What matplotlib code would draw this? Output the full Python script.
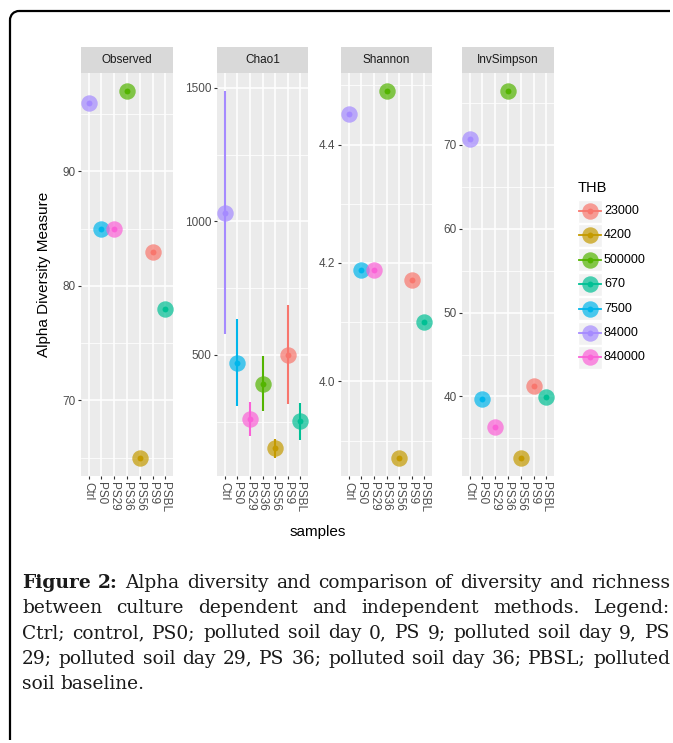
import numpy as np
import matplotlib
matplotlib.use("Agg")
import matplotlib.pyplot as plt
from matplotlib.patches import Rectangle, Arc

plt.rcParams['font.family'] = ['Liberation Sans', 'DejaVu Sans']

# alpha diversity per sample
samples = ["Ctrl", "PS0", "PS29", "PS36", "PS56", "PS9", "PSBL"]
thb = ["84000", "7500", "840000", "500000", "4200", "23000", "670"]
observed = [96, 85, 85, 97, 65, 83, 78]
chao1 = [1032, 471, 260, 391, 150, 500, 252]
chao1_se = [455, 163, 62, 103, 35, 185, 69]
shannon = [4.452, 4.188, 4.188, 4.490, 3.871, 4.171, 4.100]
invsimpson = [70.7, 39.7, 36.4, 76.4, 32.7, 41.2, 39.9]

thb_levels = ["23000", "4200", "500000", "670", "7500", "84000", "840000"]
thb_colors = ["#F8766D", "#C49A00", "#53B400", "#00C094", "#00B6EB", "#A58AFF", "#FB61D7"]
color_of = dict(zip(thb_levels, thb_colors))

measures = ["Observed", "Chao1", "Shannon", "InvSimpson"]
values = [observed, chao1, shannon, invsimpson]
errors = [None, chao1_se, None, None]
major_ticks = [[70, 80, 90], [500, 1000, 1500], [4.0, 4.2, 4.4], [40, 50, 60, 70]]
tick_fmt = ["{:g}", "{:g}", "{:.1f}", "{:g}"]

caption = [
    [("Figure", True), ("2:", True), "Alpha diversity and comparison of diversity and richness"],
    ["between culture dependent and independent methods. Legend:"],
    ["Ctrl; control, PS0; polluted soil day 0, PS 9; polluted soil day 9, PS"],
    ["29; polluted soil day 29, PS 36; polluted soil day 36; PBSL; polluted"],
    ["soil baseline."],
]

W, H = 673, 743
fig = plt.figure(figsize=(W / 100, H / 100), dpi=100)
fig.patch.set_facecolor("white")


def px_rect(x0, y0, x1, y1):
    return [x0 / W, 1 - y1 / H, (x1 - x0) / W, (y1 - y0) / H]


panel_x = [(81, 173), (217, 308), (341, 432), (462, 554)]
panel_top, panel_bot = 73, 476
strip_top = 47
xs = np.arange(1, len(samples) + 1)

for k, name in enumerate(measures):
    x0, x1 = panel_x[k]
    ax = fig.add_axes(px_rect(x0, panel_top, x1, panel_bot))
    ax.set_facecolor("#EBEBEB")
    for s in ax.spines.values():
        s.set_visible(False)

    v = np.array(values[k], dtype=float)
    if errors[k] is not None:
        e = np.array(errors[k], dtype=float)
        lo, hi = (v - e).min(), (v + e).max()
    else:
        lo, hi = v.min(), v.max()
    pad = (hi - lo) * 0.05
    ax.set_ylim(lo - pad, hi + pad)
    ax.set_xlim(0.4, len(samples) + 0.6)

    # grid: minor lines halfway between majors
    mt = major_ticks[k]
    step = mt[1] - mt[0]
    minors = np.arange(mt[0] - step * 2.5, mt[-1] + step * 3, step)
    for m in minors:
        ax.axhline(m, color="white", lw=0.55, zorder=0)
    for m in mt:
        ax.axhline(m, color="white", lw=1.1, zorder=0)
    for x in xs:
        ax.axvline(x, color="white", lw=1.1, zorder=0)

    ax.set_yticks(mt)
    ax.set_yticklabels([tick_fmt[k].format(t) for t in mt])
    ax.set_xticks(xs)
    ax.set_xticklabels(samples, rotation=270, va="top", ha="center")
    ax.tick_params(axis="both", length=2.5, width=0.8, color="#333333",
                   labelsize=8.5, labelcolor="#4D4D4D", pad=1.5)

    for i, x in enumerate(xs):
        c = color_of[thb[i]]
        if errors[k] is not None:
            ax.vlines(x, v[i] - errors[k][i], v[i] + errors[k][i], color=c, lw=1.5, zorder=2)
        ax.scatter(x, v[i], s=18, color=c, lw=0, zorder=3)
        ax.scatter(x, v[i], s=140, color=c, alpha=0.7, lw=0, zorder=4)

    st = fig.add_axes(px_rect(x0, strip_top, x1, panel_top))
    st.set_facecolor("#D9D9D9")
    st.set_xticks([])
    st.set_yticks([])
    for s in st.spines.values():
        s.set_visible(False)
    st.text(0.5, 0.5, name, ha="center", va="center", fontsize=8.5,
            color="#1A1A1A", transform=st.transAxes)

# overlay in pixel coordinates: titles, legend, caption, frame
ov = fig.add_axes([0, 0, 1, 1])
ov.set_xlim(0, W)
ov.set_ylim(H, 0)
ov.axis("off")
ov.set_zorder(10)

# frame: left and top edges joined by a rounded corner
r = 9
frame_kw = dict(color="black", lw=1.6, solid_capstyle="butt")
ov.plot([10, 10], [11 + r, H - 3], **frame_kw)
ov.plot([10 + r, W - 3], [11, 11], **frame_kw)
ov.add_patch(Arc((10 + r, 11 + r), 2 * r, 2 * r, theta1=180, theta2=270,
                 ec="black", lw=1.6))

ov.text(44, (panel_top + panel_bot) / 2, "Alpha Diversity Measure", rotation=90,
        ha="center", va="center", fontsize=11, color="black")
ov.text((panel_x[0][0] + panel_x[-1][1]) / 2, 532, "samples", ha="center", va="center",
        fontsize=11, color="black")

# legend
ov.text(578, 188, "THB", ha="left", va="center", fontsize=10.5, color="black")
for j, lev in enumerate(thb_levels):
    cy = 211 + 24.4 * j
    ov.add_patch(Rectangle((578, cy - 11.5), 24, 23, fc="#F2F2F2", ec="white", lw=1))
    c = color_of[lev]
    ov.plot([579, 601], [cy, cy], color=c, lw=1.3)
    ov.scatter(590, cy, s=18, color=c, lw=0, zorder=3)
    ov.scatter(590, cy, s=140, color=c, alpha=0.7, lw=0, zorder=4)
    ov.text(604, cy, lev, ha="left", va="center", fontsize=9, color="black")

# justified caption
renderer = fig.canvas.get_renderer()
cap_left, cap_right = 22, 670
cap_font = dict(family="DejaVu Serif", fontsize=13.4, color="#1A1A1A", va="baseline", ha="left")
for n, line in enumerate(caption):
    words = []
    for part in line:
        if isinstance(part, tuple):
            words.append(part)
        else:
            words.extend((w, False) for w in part.split())
    y = 588 + 25.2 * n
    texts = [ov.text(0, y, w, weight="bold" if b else "normal", **cap_font) for w, b in words]
    widths = [t.get_window_extent(renderer).width for t in texts]
    if n == len(caption) - 1:
        gap = 5.5
    else:
        gap = (cap_right - cap_left - sum(widths)) / (len(words) - 1)
    x = cap_left
    for t, w in zip(texts, widths):
        t.set_x(x)
        x += w + gap

fig.savefig("out.png", dpi=100)
